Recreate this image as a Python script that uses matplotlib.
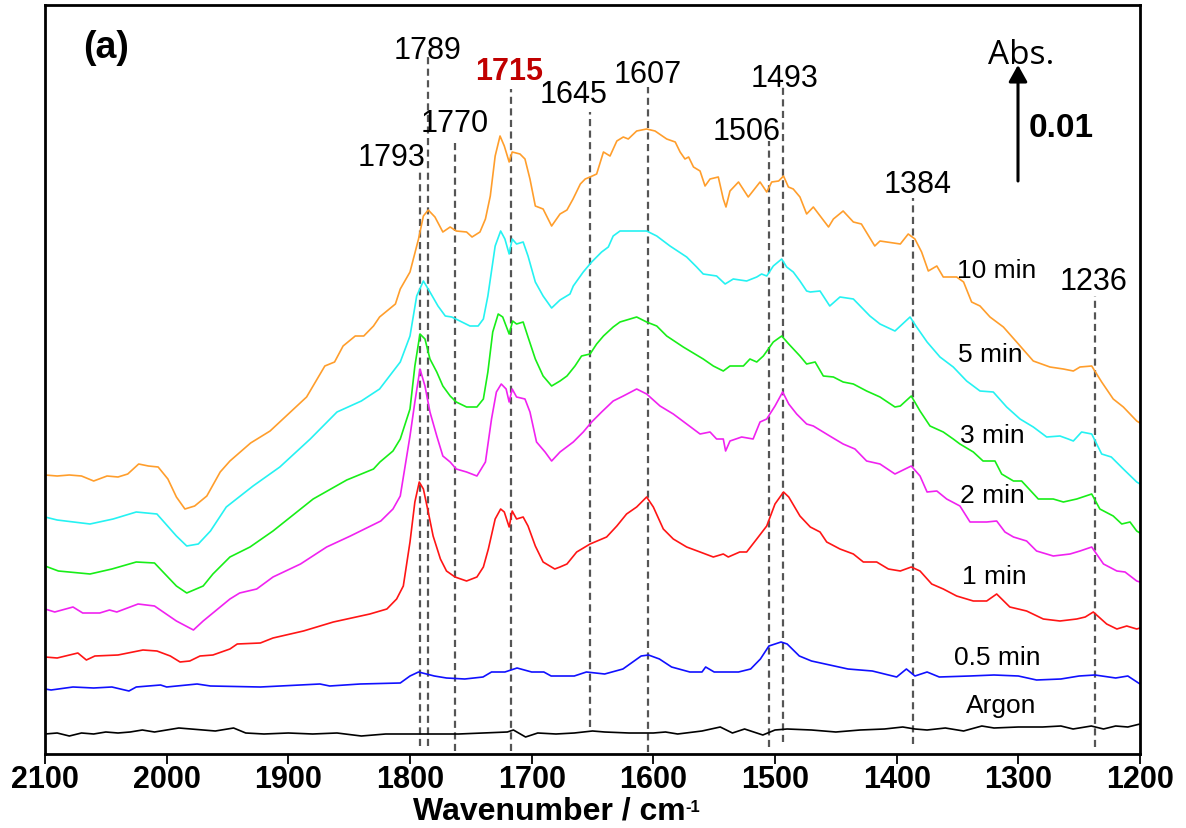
import numpy as np
import matplotlib
matplotlib.use("Agg")
import matplotlib.pyplot as plt
from matplotlib.patches import FancyArrowPatch

plt.rcParams['font.family'] = ['Liberation Sans', 'DejaVu Sans']

# ---------------- data: (wavenumber, trace position, px) -------------
argon = [(2100,735),(2090,734),(2080,737),(2070,734),(2060,735),(2050,733),(2040,734),(2030,733),
         (2020,731),(2010,733),(2000,731),(1990,729),(1980,730),(1970,731),(1960,732),(1950,730),
         (1945,729),(1935,734),(1920,735),(1900,734),(1880,735),(1860,734),(1840,737),(1820,735),
         (1800,735),(1780,735),(1760,735),(1740,734),(1720,733),(1715,731),(1705,738),(1695,734),
         (1680,735),(1665,734),(1650,732),(1640,733),(1620,734),(1600,734),(1590,733),(1580,735),
         (1560,732),(1545,728),(1535,734),(1525,730),(1510,736),(1500,731),(1490,730),(1470,731),
         (1450,733),(1430,731),(1410,730),(1395,728),(1385,730),(1375,731),(1360,729),(1345,732),
         (1330,727),(1320,729),(1300,728),(1280,728),(1265,727),(1255,730),(1240,727),(1230,730),
         (1220,727),(1210,728),(1200,725)]

min05 = [(2100,690),(2095,691),(2077,688),(2060,689),(2045,688),(2031,692),(2025,688),(2005,686),
         (2000,688),(1975,685),(1964,687),(1923,688),(1874,685),(1866,687),(1841,685),(1808,684),
         (1800,677),(1793,673),(1780,677),(1770,679),(1755,680),(1740,678),(1733,673),
         (1722,673),(1712,669),(1700,673),(1690,673),(1684,677),(1665,677),(1655,673),(1640,675),
         (1625,670),(1610,657),(1604,656),(1595,660),(1585,668),(1570,673),(1560,673),(1557,668),
         (1550,673),(1530,673),(1520,670),(1512,660),(1505,647),(1495,643),(1490,645),(1480,657),
         (1470,662),(1455,666),(1440,670),(1420,672),(1400,678),(1392,670),(1385,677),(1375,673),
         (1365,678),(1340,677),(1320,676),(1300,677),(1285,681),(1265,680),(1250,677),(1237,676),
         (1220,679),(1210,677),(1200,685)]

min1 = [(2100,658),(2090,659),(2073,654),(2066,661),(2059,657),(2040,656),(2019.5,651),(2008,652),
        (1997,657),(1989,663),(1981,662),(1972.6,657),(1962,656),(1948,650),(1942,645),(1923,644),
        (1912.6,639),(1887.6,632),(1863,623),(1833,615),(1819,610),(1811,600),(1805.5,587),
        (1800,543),(1796,503),(1792.4,483),(1789,490),(1785,513),(1781,537),(1775,560),(1770,572),
        (1763,578),(1753.5,582),(1745,578),(1739.7,568),(1735.6,550),(1730,520),(1725.5,510),
        (1722.5,513),(1718.5,528),(1716,512),(1712.4,520),(1707,518),(1703,527),(1697,547),
        (1690.6,563),(1681,570),(1676.7,568),(1671,565),(1663,553),(1652,545),(1638.4,538),
        (1630,527),(1622,515),(1613.7,508),(1605.5,498),(1600,508),(1591.8,530),(1583.6,540),
        (1572.6,548),(1561.6,553),(1550.7,558),(1542.5,555),(1538.4,558),(1529,553),(1523.3,553),
        (1515,540),(1506.8,527),(1500,505),(1493,493),(1488.7,498),(1479.5,517),(1471,528),
        (1463,533),(1457.5,543),(1446.6,550),(1435.6,555),(1427.4,563),(1416.4,563),(1406.8,570),
        (1397,572),(1388,568),(1380.8,572),(1371.2,585),(1361.7,590),(1350.7,597),(1337,602),
        (1326,602),(1317.8,595),(1307,608),(1293.2,612),(1279.5,620),(1265.8,622),(1252,620),
        (1245,618),(1238.4,613),(1227.4,625),(1219,630),(1210.9,627),(1202.7,630),(1200,629)]

min2 = [(2100,610),(2092,613),(2077,608),(2069,614),(2055,614),(2047,611),(2041,613),(2023.5,605),
        (2010,607),(1992,622),(1978,631),(1970,622),(1948,600),(1940,594),(1926,590),(1912.6,578),
        (1890,565),(1868.5,548),(1849,537),(1824,522),(1814,510),(1808,497),(1800,437),(1796,403),
        (1791.8,370),(1787.7,387),(1783.6,413),(1778,437),(1773,457),(1767,463),(1762,470),
        (1753.5,473),(1745,477),(1738,463),(1733,420),(1729,393),(1725,385),(1721,390),
        (1718.5,403),(1716,390),(1712.4,398),(1705.5,400),(1701.4,413),(1696,443),(1689,453),
        (1683.6,462),(1676.7,453),(1665.8,443),(1657.6,433),(1650.7,423),(1642.5,413),(1633,402),
        (1624.7,397),(1613.7,390),(1605.5,395),(1594.5,407),(1583.6,415),(1572.6,425),(1561.6,435),
        (1553.4,433),(1548,440),(1542.5,440),(1540.6,452),(1537,442),(1527.4,438),(1518,440),
        (1512.3,423),(1506.8,420),(1500,407),(1493.7,393),(1488.7,405),(1482.2,415),(1474,425),
        (1468.5,427),(1455,437),(1444,445),(1434.3,450),(1424.7,462),(1413.7,465),(1401.4,475),
        (1388,467),(1380.8,477),(1375,493),(1367,492),(1358.9,500),(1348,507),(1339.7,523),
        (1326,523),(1317.8,522),(1311,533),(1304,538),(1293.2,542),(1285,552),(1271.3,557),
        (1257.5,555),(1249.3,552),(1239.7,548),(1230,565),(1219,572),(1212.3,573),(1202.7,582),
        (1200,583)]

min3 = [(2100,567),(2089,572),(2063,575),(2045,570),(2025,563),(2010,564),(1992,587),(1983.5,594),
        (1970,587),(1962,575),(1948,558),(1931.5,548),(1912.6,532),(1879.6,500),(1852,481),
        (1830,470),(1824.7,463),(1814,452),(1808,440),(1800,410),(1796,367),(1791.8,335),
        (1787.7,340),(1783.6,360),(1778,373),(1773,387),(1767,397),(1762,403),(1753.5,408),
        (1745,408),(1739.7,400),(1736,373),(1732,333),(1727.5,315),(1723.8,318),(1718.5,335),
        (1715.6,322),(1712.4,325),(1707,323),(1703,338),(1697,360),(1690.6,377),(1683.6,387),
        (1676.7,382),(1671,377),(1664.4,367),(1659,357),(1652,355),(1646.6,345),(1641,337),
        (1633,328),(1627.4,323),(1613.7,318),(1605.5,323),(1597.2,327),(1589,337),(1575.4,348),
        (1559,360),(1550.7,367),(1542.5,372),(1537,367),(1526,367),(1520.6,360),(1515,363),
        (1509.6,357),(1501.4,343),(1494.5,337),(1488.7,345),(1479.5,357),(1474,365),(1467,363),
        (1460.3,377),(1452,378),(1444,383),(1435.6,385),(1424.7,392),(1413.7,398),(1401.4,408),
        (1397,407),(1388,397),(1380.8,412),(1372.6,427),(1361.7,433),(1353.5,440),(1348,445),
        (1337,453),(1329,462),(1319.2,462),(1313.7,475),(1304,482),(1297.3,482),(1283.6,500),
        (1271.3,500),(1263,503),(1252,500),(1239.7,495),(1233,510),(1222,517),(1215,525),
        (1208.2,523),(1202.7,532),(1200,534)]

min5 = [(2100,518),(2090,521),(2063,525),(2044,520),(2025,513),(2008,515),(1992,537),(1983.5,547),
        (1974,545),(1964,532),(1951,508),(1929,487),(1907,468),(1882,440),(1860,413),(1840,402),
        (1825,390),(1808,363),(1800,337),(1794.5,297),(1789,282),(1783.6,293),(1777,307),
        (1771,317),(1765.7,318),(1759,322),(1750.7,327),(1744,327),(1739.7,320),(1736,297),
        (1730,247),(1725.5,232),(1722,240),(1718.5,255),(1716,240),(1712.4,245),(1707,243),
        (1703,257),(1697,283),(1690.6,297),(1683.6,309),(1676.7,301),(1668.5,295),(1665.8,287),
        (1657.6,273),(1650.7,263),(1642.5,253),(1637,248),(1633,237),(1627.4,232),(1605.5,232),
        (1597.2,237),(1586.3,247),(1572.6,258),(1564.4,268),(1559,275),(1548,277),(1541,285),
        (1534.3,280),(1523.3,282),(1515,278),(1511,275),(1506.8,277),(1501.4,267),(1494.5,260),
        (1490.4,268),(1485,273),(1479.5,282),(1474,292),(1471,293),(1463,292),(1455,307),
        (1446.6,298),(1435.6,300),(1422,317),(1413.7,325),(1401.4,332),(1389,318),(1383.6,328),
        (1375,343),(1364.4,358),(1353.5,368),(1342.5,382),(1331.5,392),(1320.6,393),(1309.6,408),
        (1298.6,420),(1287.7,428),(1276.7,438),(1265.8,437),(1259,440),(1254.8,442),(1248,433),
        (1239.7,435),(1231.5,455),(1223.6,458),(1213.7,470),(1202.7,483),(1200,485)]

min10 = [(2100,476),(2090,477),(2080,476),(2070,477),(2060,482),(2049,477),(2040,478),(2032,475),
         (2023,465),(2015,467),(2007,468),(1999,480),(1992,498),(1985,510),(1977,507),(1967,497),
         (1956,473),(1948,462),(1931,444),(1915,432),(1900,415),(1885,398),(1870,367),(1862,363),
         (1855,347),(1845,337),(1838,337),(1830,327),(1825,318),(1812,305),(1808,290),(1800,273),
         (1793,240),(1789,217),(1785,211),(1779.5,218),(1773,233),(1767,228),(1762,232),
         (1753.5,233),(1749,238),(1742.5,233),(1738,220),(1734,197),(1730,157),(1726,137),
         (1722.5,147),(1718.5,163),(1716,153),(1709.6,155),(1705.5,160),(1701.4,180),(1697,207),
         (1690.6,210),(1683.6,227),(1676.7,215),(1671,211),(1666,200),(1660,185),(1656,180),
         (1652,178),(1646.6,175),(1641,153),(1635.6,157),(1630,142),(1624.7,138),(1620.6,140),
         (1613.7,132),(1605.5,130),(1598.6,132),(1589,140),(1582,143),(1578,153),(1574,160),
         (1571,158),(1567,168),(1561.6,172),(1557.5,187),(1553.4,180),(1546.6,178),(1542.5,200),
         (1540.3,208),(1537,192),(1530,183),(1522,198),(1512.3,183),(1506.8,193),(1502.7,183),
         (1497,182),(1493,177),(1489,188),(1485,190),(1479.5,198),(1474,215),(1468.5,208),
         (1456,228),(1452,220),(1444,212),(1435.6,223),(1429,225),(1418,247),(1413.7,242),
         (1397,245),(1390.5,235),(1385,240),(1379.5,253),(1374,272),(1367,267),(1361.7,278),
         (1350.7,278),(1345,283),(1338.4,303),(1331.5,307),(1323.3,318),(1312.3,328),(1301.4,343),
         (1287.7,362),(1274,368),(1263,370),(1254.8,372),(1249.3,368),(1239.7,367),(1231.5,383),
         (1222,400),(1213.7,408),(1202.7,422),(1200,424)]

series_names = ["Argon", "0.5 min", "1 min", "2 min", "3 min", "5 min", "10 min"]
series_data = [argon, min05, min1, min2, min3, min5, min10]
series_colors = ["#000000", "#1010FF", "#FF1515", "#F022F0", "#18EE18", "#25F2F2", "#FF9E2C"]

peak_lines = [1792, 1785, 1763, 1717, 1652, 1604, 1505, 1493.5, 1386.5, 1237]
peak_labels = ["1793", "1789", "1770", "1715", "1645", "1607", "1506", "1493", "1384", "1236"]

# ---------------- layout helpers ----------------
W, H = 1186, 829
L, R, T, B = 45, 1140, 6, 755
ABS_PER_PX = 0.01 / 115.0


def yabs(px):
    return (B - np.asarray(px, dtype=float)) * ABS_PER_PX


def xw(px):
    return 2100 - (px - L) * 900.0 / (R - L)


fig = plt.figure(figsize=(W / 100, H / 100), dpi=100)
ax = fig.add_axes([L / W, 1 - B / H, (R - L) / W, (B - T) / H])
ax.set_xlim(2100, 1200)
ax.set_ylim(0, (B - T) * ABS_PER_PX)

# dashed peak lines (top/bottom in px)
line_tops = [170, 58, 140, 90, 113, 88, 142, 88, 199, 297]
line_bots = [747, 747, 752, 752, 728, 753, 748, 743, 745, 748]
for wn, t, b in zip(peak_lines, line_tops, line_bots):
    ax.plot([wn, wn], [yabs(b), yabs(t)], color="#555555", lw=1.6,
            linestyle=(0, (3.2, 2.0)), zorder=1)

for data, c in zip(series_data, series_colors):
    arr = np.array(data, dtype=float)
    ax.plot(arr[:, 0], yabs(arr[:, 1]), color=c, lw=1.2, zorder=2)

# peak labels: (x center px, baseline px)
label_pos = [(392, 166), (428, 59), (455, 132), (509, 80), (574, 103), (648, 83),
             (747, 140), (785, 87), (918, 193), (1094, 290)]
for lab, (px, py) in zip(peak_labels, label_pos):
    if lab == "1715":
        ax.text(xw(px), yabs(py), lab, ha="center", va="baseline", fontsize=22,
                color="#C00000", fontweight="bold")
    else:
        ax.text(xw(px), yabs(py), lab, ha="center", va="baseline", fontsize=22,
                color="black")

# series labels
series_label_pos = [(1001, 713), (997, 665), (994, 584), (992, 503), (992, 443), (990, 362), (997, 278)]
for name, (px, py) in zip(series_names, series_label_pos):
    ax.text(xw(px), yabs(py), name, ha="center", va="baseline", fontsize=19, color="black")

ax.text(xw(106), yabs(58), "(a)", ha="center", va="baseline", fontsize=27, fontweight="bold")
ax.text(xw(1021), yabs(64), "Abs.", ha="center", va="baseline", fontsize=24,
        family=["Open Sans", "DejaVu Sans"])
ax.text(xw(1061), yabs(137), "0.01", ha="center", va="baseline", fontsize=24, fontweight="bold")
arrow = FancyArrowPatch((xw(1018), yabs(182)), (xw(1018), yabs(66)),
                        arrowstyle="-|>,head_length=0.5,head_width=0.28",
                        mutation_scale=20, lw=2.2, color="black", shrinkA=0, shrinkB=0)
ax.add_patch(arrow)

# axes styling
ax.set_yticks([])
ax.set_xticks([2100, 2000, 1900, 1800, 1700, 1600, 1500, 1400, 1300, 1200])
ax.tick_params(axis="x", direction="out", length=7, width=1.3, labelsize=22, pad=0)
for lbl in ax.get_xticklabels():
    lbl.set_fontweight("bold")
for s in ax.spines.values():
    s.set_linewidth(2)

fig.text(413 / W, 1 - 820 / H, "Wavenumber / cm", ha="left", va="baseline",
         fontsize=23, fontweight="bold")
fig.text(685 / W, 1 - 812 / H, "-1", ha="left", va="baseline", fontsize=12, fontweight="bold")

fig.savefig("out.png", dpi=100)
